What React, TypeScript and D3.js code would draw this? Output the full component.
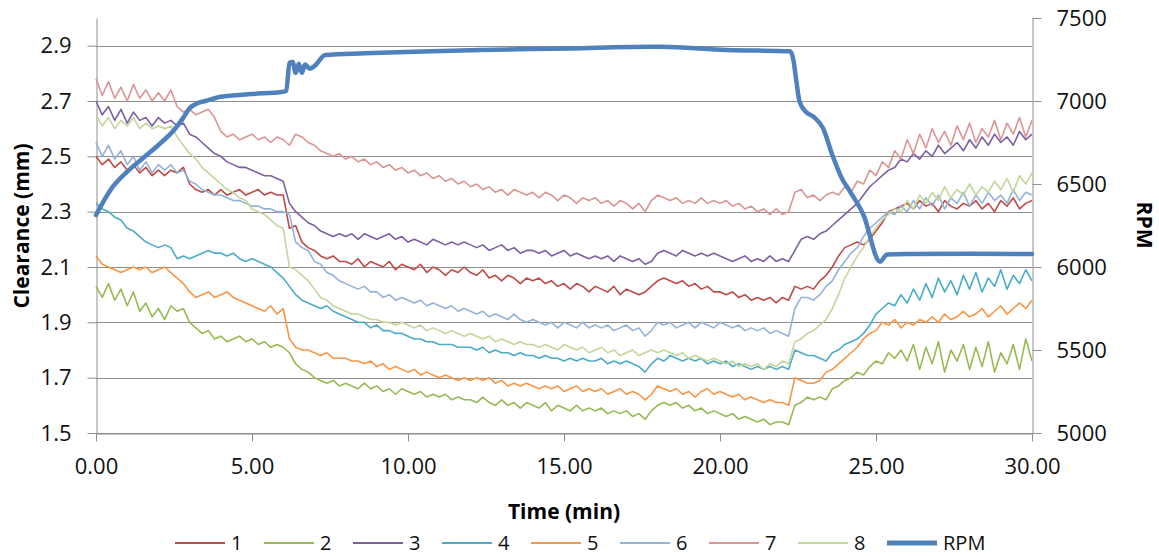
import React, { useEffect, useRef } from "react";
import * as d3 from "d3";

// sampling grid of the clearance probes, every 0.2 min
const sampleTimes = d3.range(151).map((i) => +(i * 0.2).toFixed(1));

const probe1 = [
  2.50, 2.47, 2.49, 2.46, 2.48, 2.45, 2.47, 2.44, 2.46, 2.43,
  2.45, 2.43, 2.45, 2.44, 2.46, 2.40, 2.38, 2.37, 2.38, 2.36,
  2.38, 2.36, 2.37, 2.38, 2.36, 2.37, 2.38, 2.36, 2.37, 2.36,
  2.36, 2.24, 2.25, 2.19, 2.17, 2.16, 2.14, 2.13, 2.14, 2.12,
  2.12, 2.11, 2.13, 2.10, 2.12, 2.11, 2.10, 2.12, 2.09, 2.11,
  2.10, 2.09, 2.11, 2.08, 2.10, 2.09, 2.07, 2.09, 2.08, 2.10,
  2.08, 2.07, 2.09, 2.06, 2.07, 2.05, 2.07, 2.06, 2.04, 2.06,
  2.05, 2.06, 2.04, 2.05, 2.03, 2.04, 2.02, 2.04, 2.03, 2.01,
  2.03, 2.02, 2.01, 2.03, 2.00, 2.02, 2.01, 2.00, 2.01, 2.03,
  2.05, 2.06, 2.05, 2.04, 2.05, 2.03, 2.04, 2.02, 2.03, 2.01,
  2.01, 2.00, 2.01, 1.99, 2.00, 1.98, 1.99, 1.98, 1.99, 1.97,
  1.99, 1.98, 2.03, 2.02, 2.03, 2.02, 2.05, 2.07, 2.10, 2.14,
  2.17, 2.18, 2.19, 2.18, 2.20, 2.23, 2.26, 2.30, 2.31, 2.32,
  2.33, 2.31, 2.34, 2.32, 2.33, 2.30, 2.34, 2.32, 2.31, 2.33,
  2.32, 2.34, 2.31, 2.33, 2.30, 2.34, 2.32, 2.35, 2.31, 2.33,
  2.34,
];

const probe2 = [
  2.03, 1.99, 2.04, 1.98, 2.02, 1.96, 2.01, 1.94, 1.97, 1.92,
  1.95, 1.91, 1.96, 1.94, 1.95, 1.90, 1.88, 1.86, 1.87, 1.84,
  1.85, 1.83, 1.84, 1.85, 1.83, 1.84, 1.82, 1.83, 1.81, 1.82,
  1.81, 1.79, 1.75, 1.73, 1.72, 1.70, 1.69, 1.68, 1.69, 1.67,
  1.68, 1.67, 1.66, 1.68, 1.66, 1.67, 1.65, 1.66, 1.64, 1.66,
  1.65, 1.64, 1.65, 1.63, 1.64, 1.63, 1.64, 1.62, 1.63, 1.62,
  1.62, 1.61, 1.63, 1.61, 1.60, 1.62, 1.60, 1.61, 1.59, 1.61,
  1.60, 1.59, 1.61, 1.58, 1.60, 1.59, 1.58, 1.60, 1.58, 1.59,
  1.58, 1.59, 1.57, 1.58, 1.57, 1.58, 1.56, 1.57, 1.55, 1.58,
  1.60, 1.61, 1.60, 1.61, 1.59, 1.60, 1.58, 1.59, 1.57, 1.58,
  1.57, 1.56, 1.57, 1.55, 1.56, 1.55, 1.54, 1.55, 1.53, 1.54,
  1.54, 1.53, 1.60, 1.61, 1.63, 1.62, 1.63, 1.62, 1.66, 1.67,
  1.69, 1.70, 1.72, 1.71, 1.74, 1.76, 1.75, 1.79, 1.77, 1.80,
  1.76, 1.82, 1.73, 1.81, 1.75, 1.83, 1.72, 1.80, 1.76, 1.82,
  1.73, 1.81, 1.74, 1.83, 1.72, 1.79, 1.75, 1.82, 1.73, 1.84,
  1.76,
];

const probe3 = [
  2.70, 2.65, 2.68, 2.63, 2.67, 2.62, 2.66, 2.63, 2.64, 2.61,
  2.64, 2.62, 2.63, 2.61, 2.62, 2.58, 2.57, 2.55, 2.53, 2.51,
  2.50, 2.48, 2.47, 2.46, 2.46, 2.45, 2.44, 2.43, 2.43, 2.42,
  2.41, 2.33, 2.30, 2.28, 2.26, 2.25, 2.23, 2.22, 2.21, 2.22,
  2.21, 2.22, 2.20, 2.22, 2.21, 2.20, 2.21, 2.22, 2.20, 2.21,
  2.19, 2.20, 2.19, 2.18, 2.20, 2.19, 2.18, 2.19, 2.18, 2.19,
  2.18, 2.17, 2.18, 2.16, 2.17, 2.18, 2.16, 2.17, 2.15, 2.16,
  2.16, 2.15, 2.16, 2.14, 2.15, 2.16, 2.14, 2.15, 2.14, 2.13,
  2.14, 2.13, 2.14, 2.12, 2.14, 2.13, 2.12, 2.13, 2.11, 2.12,
  2.15, 2.16, 2.15, 2.14, 2.16, 2.15, 2.14, 2.15, 2.14, 2.15,
  2.14, 2.13, 2.12, 2.13, 2.14, 2.12, 2.13, 2.12, 2.14, 2.12,
  2.13, 2.12, 2.16, 2.20, 2.21, 2.20, 2.22, 2.23, 2.25, 2.27,
  2.29, 2.31, 2.33, 2.36, 2.39, 2.41, 2.43, 2.45, 2.46, 2.49,
  2.48, 2.51, 2.49, 2.52, 2.50, 2.54, 2.51, 2.53, 2.55, 2.52,
  2.56, 2.53, 2.57, 2.54, 2.58, 2.55, 2.57, 2.54, 2.59, 2.56,
  2.58,
];

const probe4 = [
  2.33, 2.31, 2.30, 2.28, 2.27, 2.24, 2.23, 2.21, 2.19, 2.18,
  2.17, 2.18, 2.17, 2.13, 2.14, 2.13, 2.14, 2.15, 2.16, 2.15,
  2.15, 2.14, 2.15, 2.13, 2.12, 2.13, 2.12, 2.11, 2.10, 2.08,
  2.06, 2.03, 2.00, 1.98, 1.97, 1.96, 1.95, 1.96, 1.94, 1.93,
  1.92, 1.91, 1.90, 1.90, 1.88, 1.89, 1.87, 1.87, 1.86, 1.86,
  1.85, 1.84, 1.84, 1.83, 1.83, 1.82, 1.82, 1.82, 1.81, 1.81,
  1.81, 1.80, 1.81, 1.79, 1.80, 1.79, 1.79, 1.78, 1.79, 1.78,
  1.78, 1.77, 1.78, 1.77, 1.77, 1.76, 1.77, 1.76, 1.77, 1.76,
  1.76, 1.77, 1.75, 1.76, 1.75, 1.76, 1.75, 1.74, 1.72, 1.75,
  1.77, 1.76, 1.78, 1.77, 1.76, 1.77, 1.76, 1.77, 1.75, 1.76,
  1.75, 1.76, 1.74, 1.75, 1.74, 1.73, 1.74, 1.73, 1.74, 1.73,
  1.74, 1.73, 1.80, 1.79, 1.78, 1.78, 1.77, 1.76, 1.79, 1.80,
  1.82, 1.83, 1.84, 1.86, 1.89, 1.93, 1.95, 1.97, 1.96, 2.00,
  1.97, 2.02, 1.98, 2.04, 1.99, 2.06, 2.01, 2.05, 2.00, 2.07,
  2.02, 2.08, 2.01, 2.06, 2.03, 2.09, 2.02, 2.07, 2.04, 2.09,
  2.05,
];

const probe5 = [
  2.14, 2.11, 2.10, 2.09, 2.08, 2.09, 2.10, 2.09, 2.10, 2.08,
  2.09, 2.10, 2.08, 2.06, 2.04, 2.01, 1.99, 2.00, 2.01, 1.99,
  2.00, 2.01, 1.99, 1.98, 1.97, 1.96, 1.95, 1.94, 1.96, 1.93,
  1.95, 1.84, 1.81, 1.80, 1.80, 1.79, 1.78, 1.79, 1.77, 1.77,
  1.77, 1.76, 1.76, 1.75, 1.76, 1.74, 1.75, 1.73, 1.74, 1.73,
  1.72, 1.73, 1.71, 1.72, 1.71, 1.70, 1.71, 1.70, 1.69, 1.70,
  1.69, 1.70, 1.69, 1.70, 1.68, 1.69, 1.67, 1.68, 1.67, 1.68,
  1.67, 1.66, 1.67, 1.66, 1.67, 1.65, 1.66, 1.67, 1.65, 1.66,
  1.65, 1.66, 1.64, 1.65, 1.66, 1.64, 1.65, 1.64, 1.62, 1.64,
  1.67, 1.66, 1.65, 1.66, 1.64, 1.65, 1.63, 1.65, 1.66, 1.64,
  1.65, 1.64, 1.63, 1.64, 1.62, 1.63, 1.62, 1.61, 1.62, 1.61,
  1.61, 1.60, 1.70, 1.69, 1.68, 1.68, 1.69, 1.72, 1.73, 1.75,
  1.77, 1.79, 1.81, 1.84, 1.86, 1.87, 1.90, 1.89, 1.91, 1.88,
  1.90, 1.89, 1.91, 1.90, 1.92, 1.90, 1.93, 1.91, 1.92, 1.94,
  1.92, 1.93, 1.95, 1.92, 1.94, 1.96, 1.93, 1.95, 1.97, 1.95,
  1.98,
];

const probe6 = [
  2.55, 2.50, 2.54, 2.49, 2.52, 2.47, 2.50, 2.45, 2.48, 2.44,
  2.47, 2.45, 2.47, 2.44, 2.45, 2.41, 2.40, 2.38, 2.37, 2.36,
  2.36, 2.35, 2.34, 2.34, 2.33, 2.32, 2.32, 2.31, 2.31, 2.30,
  2.30, 2.29, 2.19, 2.17, 2.16, 2.12, 2.11, 2.08, 2.07, 2.05,
  2.04, 2.03, 2.02, 2.03, 2.01, 2.01, 1.99, 2.00, 1.98, 1.99,
  1.98, 1.97, 1.98, 1.96, 1.97, 1.96, 1.95, 1.96, 1.94, 1.95,
  1.94, 1.93, 1.94, 1.92, 1.93, 1.92, 1.91, 1.93, 1.91, 1.90,
  1.91, 1.90, 1.89, 1.90, 1.88, 1.90, 1.89, 1.88, 1.90, 1.88,
  1.89, 1.88, 1.89, 1.87, 1.88, 1.89, 1.87, 1.88, 1.85, 1.87,
  1.90, 1.89, 1.90, 1.88, 1.89, 1.90, 1.88, 1.90, 1.89, 1.88,
  1.90, 1.89, 1.88, 1.89, 1.87, 1.88, 1.87, 1.88, 1.86, 1.87,
  1.86, 1.85, 1.95, 1.99, 1.99, 1.98, 2.00, 2.03, 2.05, 2.09,
  2.12, 2.15, 2.17, 2.21, 2.24, 2.26, 2.28, 2.30, 2.29, 2.32,
  2.30, 2.34, 2.31, 2.35, 2.32, 2.36, 2.31, 2.35, 2.33, 2.37,
  2.32, 2.36, 2.33, 2.37, 2.34, 2.36, 2.33, 2.38, 2.34, 2.37,
  2.36,
];

const probe7 = [
  2.78, 2.72, 2.77, 2.71, 2.75, 2.70, 2.76, 2.71, 2.74, 2.70,
  2.73, 2.70, 2.74, 2.68, 2.66, 2.67, 2.65, 2.66, 2.67, 2.64,
  2.59, 2.57, 2.58, 2.56, 2.57, 2.58, 2.56, 2.57, 2.55, 2.57,
  2.56, 2.54, 2.58, 2.57, 2.55, 2.54, 2.52, 2.51, 2.50, 2.51,
  2.49, 2.50, 2.48, 2.49, 2.47, 2.48, 2.46, 2.47, 2.45, 2.46,
  2.44, 2.45, 2.43, 2.44, 2.42, 2.43, 2.41, 2.42, 2.40, 2.41,
  2.39, 2.40, 2.38, 2.39, 2.37, 2.38, 2.36, 2.38, 2.37, 2.36,
  2.37, 2.35, 2.37, 2.36, 2.34, 2.36, 2.35, 2.33, 2.35, 2.34,
  2.35, 2.33, 2.34, 2.32, 2.34, 2.33, 2.31, 2.33, 2.30, 2.34,
  2.36, 2.35, 2.34, 2.35, 2.33, 2.34, 2.33, 2.35, 2.33, 2.34,
  2.33, 2.34, 2.32, 2.33, 2.31, 2.32, 2.30, 2.31, 2.29, 2.31,
  2.29, 2.30, 2.37, 2.38, 2.35, 2.36, 2.34, 2.36, 2.37, 2.36,
  2.39, 2.37, 2.41, 2.40, 2.45, 2.43, 2.48, 2.46, 2.52, 2.49,
  2.56, 2.51, 2.58, 2.53, 2.60, 2.55, 2.59, 2.54, 2.61, 2.56,
  2.62, 2.55, 2.60, 2.57, 2.63, 2.56, 2.62, 2.58, 2.64, 2.57,
  2.63,
];

const probe8 = [
  2.65, 2.61, 2.64, 2.60, 2.63, 2.61, 2.64, 2.60, 2.62, 2.60,
  2.61, 2.60, 2.61, 2.57, 2.54, 2.51, 2.49, 2.46, 2.44, 2.42,
  2.40, 2.38, 2.37, 2.35, 2.34, 2.31, 2.30, 2.29, 2.27, 2.25,
  2.24, 2.10, 2.09, 2.07, 2.05, 2.02, 1.99, 1.98, 1.96, 1.95,
  1.94, 1.93, 1.93, 1.92, 1.91, 1.91, 1.90, 1.90, 1.89, 1.90,
  1.89, 1.88, 1.89, 1.87, 1.88, 1.87, 1.86, 1.87, 1.86, 1.85,
  1.86, 1.85, 1.84, 1.85, 1.83, 1.84, 1.83, 1.82, 1.83, 1.82,
  1.82, 1.81, 1.82, 1.81, 1.80, 1.82, 1.81, 1.80, 1.81, 1.79,
  1.80, 1.81, 1.79, 1.80, 1.78, 1.79, 1.80, 1.78, 1.79, 1.80,
  1.79, 1.80, 1.79, 1.78, 1.79, 1.77, 1.78, 1.77, 1.76, 1.77,
  1.76, 1.75, 1.76, 1.74, 1.75, 1.74, 1.75, 1.73, 1.75, 1.74,
  1.76, 1.75, 1.83, 1.84, 1.86, 1.87, 1.89, 1.91, 1.95, 2.00,
  2.06, 2.10, 2.14, 2.17, 2.21, 2.24, 2.27, 2.29, 2.31, 2.30,
  2.34, 2.31, 2.36, 2.33, 2.37, 2.34, 2.39, 2.35, 2.38, 2.36,
  2.40, 2.36, 2.39, 2.37, 2.41, 2.38, 2.42, 2.37, 2.43, 2.40,
  2.44,
];

const rpmTimes = [
  0, 0.5, 1, 1.5, 2, 2.5, 2.8, 3, 3.3, 3.5, 4, 5, 6, 6.1, 6.2, 6.3, 6.4, 6.5,
  6.6, 6.7, 6.85, 7, 7.35, 8.6, 10.2, 12.3, 15.2, 17.7, 18.1, 20.2, 22.25,
  22.35, 22.45, 22.55, 22.75, 23, 23.3, 23.6, 23.9, 24.17, 24.6, 25.13, 25.35,
  26, 28, 30,
];
const rpmValues = [
  6313, 6474, 6574, 6655, 6735, 6825, 6900, 6956, 6990, 7000, 7026, 7042, 7056,
  7060, 7230, 7235, 7170, 7225, 7170, 7220, 7195, 7210, 7277, 7287, 7297, 7307,
  7317, 7327, 7327, 7307, 7300, 7250, 7116, 6996, 6935, 6905, 6837, 6675, 6536,
  6454, 6313, 6032, 6075, 6078, 6080, 6078,
];

const seriesNames = ["1", "2", "3", "4", "5", "6", "7", "8"];
const seriesValues = [probe1, probe2, probe3, probe4, probe5, probe6, probe7, probe8];
const seriesColors = [
  "#BE4B48", "#98B954", "#7D60A0", "#4BACC6",
  "#F79646", "#95B3D7", "#D99694", "#C3D69B",
];
const rpmColor = "#4F81BD";

const clearanceTicks = [1.5, 1.7, 1.9, 2.1, 2.3, 2.5, 2.7, 2.9];
const rpmTicks = [5000, 5500, 6000, 6500, 7000, 7500];
const timeTicks = [0, 5, 10, 15, 20, 25, 30];

const FONT = "'Open Sans', sans-serif";

const App = () => {
  const svgRef = useRef<SVGSVGElement>(null);

  useEffect(() => {
    const svg = d3.select(svgRef.current);
    svg.selectAll("*").remove();

    const left = 96;
    const right = 1032;
    const top = 18;
    const bottom = 433;

    const xScale = d3.scaleLinear().domain([0, 30]).range([left, right]);
    const yLeft = d3.scaleLinear().domain([1.5, 3.0]).range([bottom, top]);
    const yRight = d3.scaleLinear().domain([5000, 7500]).range([bottom, top]);

    // gridlines
    svg
      .append("g")
      .selectAll("line")
      .data(clearanceTicks)
      .join("line")
      .attr("x1", left)
      .attr("x2", right)
      .attr("y1", (d) => Math.round(yLeft(d)) + 0.5)
      .attr("y2", (d) => Math.round(yLeft(d)) + 0.5)
      .attr("stroke", "#8e8e8e")
      .attr("stroke-width", 1);

    const styleAxis = (g: any) => {
      g.attr("font-family", FONT).attr("font-size", 22);
      g.select(".domain").attr("stroke", "#8e8e8e");
      g.selectAll(".tick line").attr("stroke", "#8e8e8e");
      g.selectAll(".tick text").attr("fill", "#111");
    };

    svg
      .append("g")
      .attr("transform", `translate(${left + 0.5},0)`)
      .call(
        d3
          .axisLeft(yLeft)
          .tickValues(clearanceTicks)
          .tickSize(9)
          .tickSizeOuter(0)
          .tickPadding(16)
          .tickFormat(d3.format(".1f"))
      )
      .call(styleAxis);

    svg
      .append("g")
      .attr("transform", `translate(${right + 0.5},0)`)
      .call(
        d3
          .axisRight(yRight)
          .tickValues(rpmTicks)
          .tickSize(9)
          .tickSizeOuter(0)
          .tickPadding(15)
          .tickFormat(d3.format("d"))
      )
      .call(styleAxis);

    const xAxisG = svg
      .append("g")
      .attr("transform", `translate(0,${bottom + 0.5})`)
      .call(
        d3
          .axisBottom(xScale)
          .tickValues(timeTicks)
          .tickSize(8)
          .tickSizeOuter(0)
          .tickFormat(d3.format(".2f"))
      )
      .call(styleAxis);
    xAxisG.selectAll(".tick text").attr("y", 33).attr("dy", "0.35em");

    // clearance series
    const clearanceLine = d3
      .line<number>()
      .x((d, i) => xScale(sampleTimes[i]))
      .y((d) => yLeft(d));

    svg
      .append("g")
      .selectAll("path")
      .data(seriesValues)
      .join("path")
      .attr("d", (d) => clearanceLine(d))
      .attr("fill", "none")
      .attr("stroke", (d, i) => seriesColors[i])
      .attr("stroke-width", 1.6)
      .attr("stroke-linejoin", "round");

    // RPM on secondary axis
    const rpmLine = d3
      .line<number>()
      .x((d, i) => xScale(rpmTimes[i]))
      .y((d) => yRight(d))
      .curve(d3.curveMonotoneX);

    svg
      .append("path")
      .datum(rpmValues)
      .attr("d", rpmLine)
      .attr("fill", "none")
      .attr("stroke", rpmColor)
      .attr("stroke-width", 4.5)
      .attr("stroke-linejoin", "round")
      .attr("stroke-linecap", "round");

    // axis titles
    svg
      .append("text")
      .attr("transform", "translate(29,226) rotate(-90)")
      .attr("text-anchor", "middle")
      .attr("font-family", FONT)
      .attr("font-weight", "bold")
      .attr("font-size", 21)
      .text("Clearance (mm)");

    svg
      .append("text")
      .attr("transform", "translate(1137,225) rotate(90)")
      .attr("text-anchor", "middle")
      .attr("font-family", FONT)
      .attr("font-weight", "bold")
      .attr("font-size", 21)
      .text("RPM");

    svg
      .append("text")
      .attr("x", 564)
      .attr("y", 512)
      .attr("dy", "0.35em")
      .attr("text-anchor", "middle")
      .attr("font-family", FONT)
      .attr("font-weight", "bold")
      .attr("font-size", 21)
      .text("Time (min)");

    // legend
    const legendItems = [
      ...seriesNames.map((n, i) => ({ name: n, color: seriesColors[i], width: 2 })),
      { name: "RPM", color: rpmColor, width: 5 },
    ];
    const legend = svg
      .append("g")
      .selectAll("g")
      .data(legendItems)
      .join("g")
      .attr("transform", (d, i) => `translate(${175 + i * 89},543)`);
    legend
      .append("line")
      .attr("x1", 0)
      .attr("x2", 50)
      .attr("stroke", (d) => d.color)
      .attr("stroke-width", (d) => d.width);
    legend
      .append("text")
      .attr("x", 56)
      .attr("dy", "0.35em")
      .attr("font-family", FONT)
      .attr("font-size", 20)
      .attr("fill", "#111")
      .text((d) => d.name);
  }, []);

  return (
    <svg
      ref={svgRef}
      width={1159}
      height={556}
      style={{ position: "absolute", left: 0, top: 0, background: "#fff" }}
    />
  );
};

export default App;
